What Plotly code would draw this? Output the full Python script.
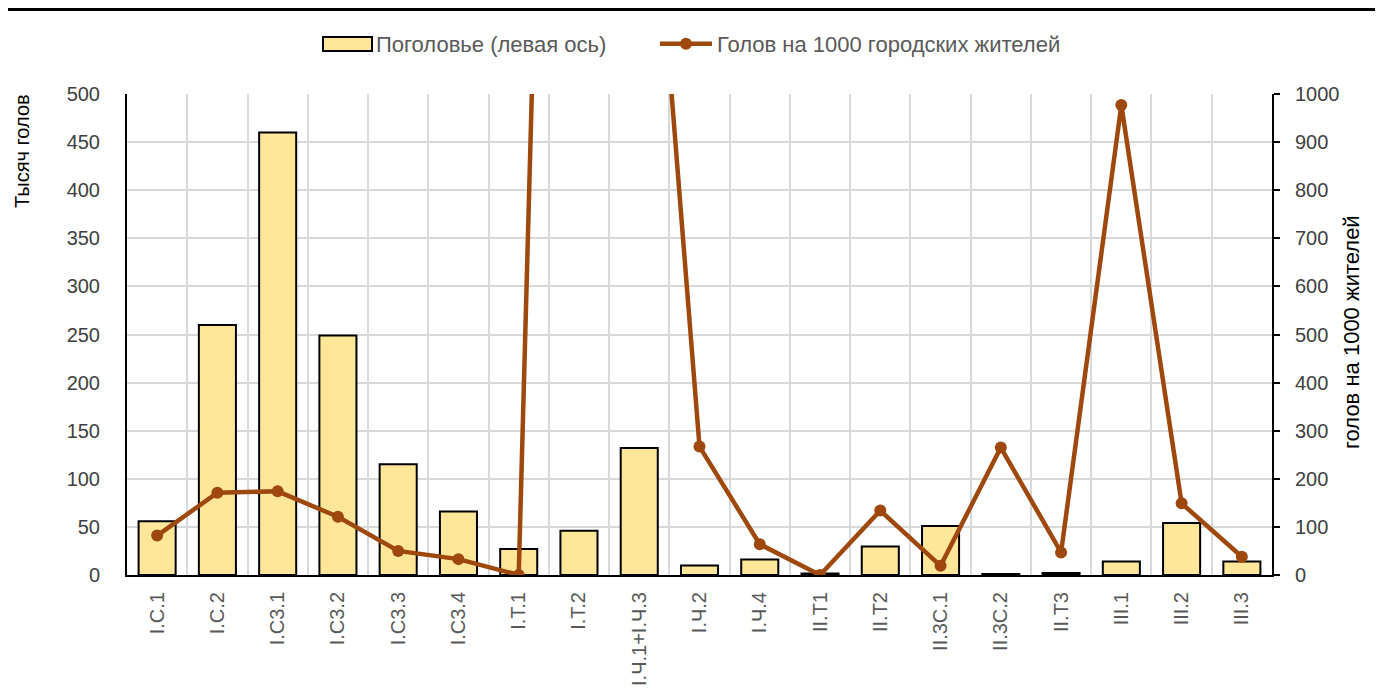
import plotly.graph_objects as go

categories = ["I.C.1", "I.C.2", "I.C3.1", "I.C3.2", "I.C3.3", "I.C3.4", "I.T.1", "I.T.2",
              "I.Ч.1+I.Ч.3", "I.Ч.2", "I.Ч.4", "II.T1", "II.T2", "II.3C.1", "II.3C.2",
              "II.T3", "III.1", "III.2", "III.3"]
herd = [56, 260, 460, 249, 115, 66, 27, 46, 132, 10, 16, 1.5, 29.5, 51, 1, 2, 14, 54, 14]
per_1000 = [82, 171, 174, 121, 50, 33, 0, 4600, 1850, 267, 64, 0, 134, 19, 265, 47, 977, 149, 38]

bar_name = "Поголовье (левая ось)"
line_name = "Голов на 1000 городских жителей"
left_title = "Тысяч голов"
right_title = "голов на 1000 жителей"

W, H = 1383, 698
OFF = 8  # page body margin
L, R, T, B = 127 - OFF, 1272 - OFF, 94 - OFF, 575 - OFF

BAR_FILL = "#FFE699"
LINE_COLOR = "#9E480E"


def px(xp):
    return (xp - OFF - L) / (R - L)


def py(yp):
    return (B - (yp - OFF)) / (B - T)


fig = go.Figure()
fig.add_trace(go.Bar(
    x=categories, y=herd, name=bar_name, showlegend=False,
    marker=dict(color=BAR_FILL, line=dict(color="black", width=2)),
))
# legend entry for the bars (swatch drawn as a wide Excel-style rectangle below)
fig.add_trace(go.Scatter(
    x=[None], y=[None], name=bar_name, mode="lines", legend="legend",
    line=dict(color="rgba(0,0,0,0)", width=1), hoverinfo="skip",
))
fig.add_trace(go.Scatter(
    x=categories, y=per_1000, name=line_name, yaxis="y2", legend="legend2",
    mode="lines+markers",
    line=dict(color=LINE_COLOR, width=4.5),
    marker=dict(color=LINE_COLOR, size=12),
))

legend_font = dict(family="Liberation Sans", size=22, color="#595959")
tickfont = dict(family="Liberation Sans", size=20, color="#404040")
fig.update_layout(
    width=W, height=H,
    margin=dict(l=L, r=W - R, t=T, b=H - B, pad=0),
    paper_bgcolor="white", plot_bgcolor="white",
    bargap=0.385,
    font=dict(family="Liberation Sans", color="#404040"),
    showlegend=True,
    legend=dict(orientation="h", x=px(314), xanchor="left", y=py(44), yanchor="middle",
                font=legend_font, itemwidth=52, bgcolor="rgba(0,0,0,0)"),
    legend2=dict(orientation="h", x=px(655), xanchor="left", y=py(44), yanchor="middle",
                 font=legend_font, itemwidth=52, bgcolor="rgba(0,0,0,0)"),
    xaxis=dict(
        type="category", range=[-0.5, len(categories) - 0.5],
        tickson="boundaries", showgrid=True, gridcolor="#D9D9D9", gridwidth=2,
        showline=True, linecolor="black", linewidth=2, ticks="", tickangle=-90,
        tickfont=dict(family="Liberation Sans", size=20, color="#595959"),
        ticklabelstandoff=7,
    ),
    yaxis=dict(
        range=[0, 500], dtick=50, showgrid=True, gridcolor="#D9D9D9", gridwidth=2,
        showline=True, linecolor="black", linewidth=2, ticks="", tickfont=tickfont,
        ticklabelstandoff=21, zeroline=False,
    ),
    yaxis2=dict(
        range=[0, 1000], dtick=100, overlaying="y", side="right", showgrid=False,
        showline=True, linecolor="black", linewidth=2, ticks="outside", ticklen=6,
        tickcolor="black", tickwidth=2, tickfont=tickfont, zeroline=False,
        ticklabelstandoff=11,
    ),
    annotations=[
        dict(text=left_title, textangle=-90, xref="paper", yref="paper",
             x=px(22), y=py(151), xanchor="center", yanchor="middle", showarrow=False,
             font=dict(family="Liberation Sans", size=20, color="black")),
        dict(text=right_title, textangle=-90, xref="paper", yref="paper",
             x=px(1351), y=py(332), xanchor="center", yanchor="middle", showarrow=False,
             font=dict(family="Liberation Sans", size=22, color="black")),
    ],
    shapes=[
        dict(type="rect", xref="paper", yref="paper",
             x0=px(0), x1=px(W + 20), y0=py(11), y1=py(0),
             fillcolor="black", line=dict(width=0), layer="above"),
        dict(type="rect", xref="paper", yref="paper",
             x0=px(323), x1=px(372), y0=py(51), y1=py(37),
             fillcolor=BAR_FILL, line=dict(color="black", width=2), layer="above"),
    ],
)

fig.write_html("out.html")
